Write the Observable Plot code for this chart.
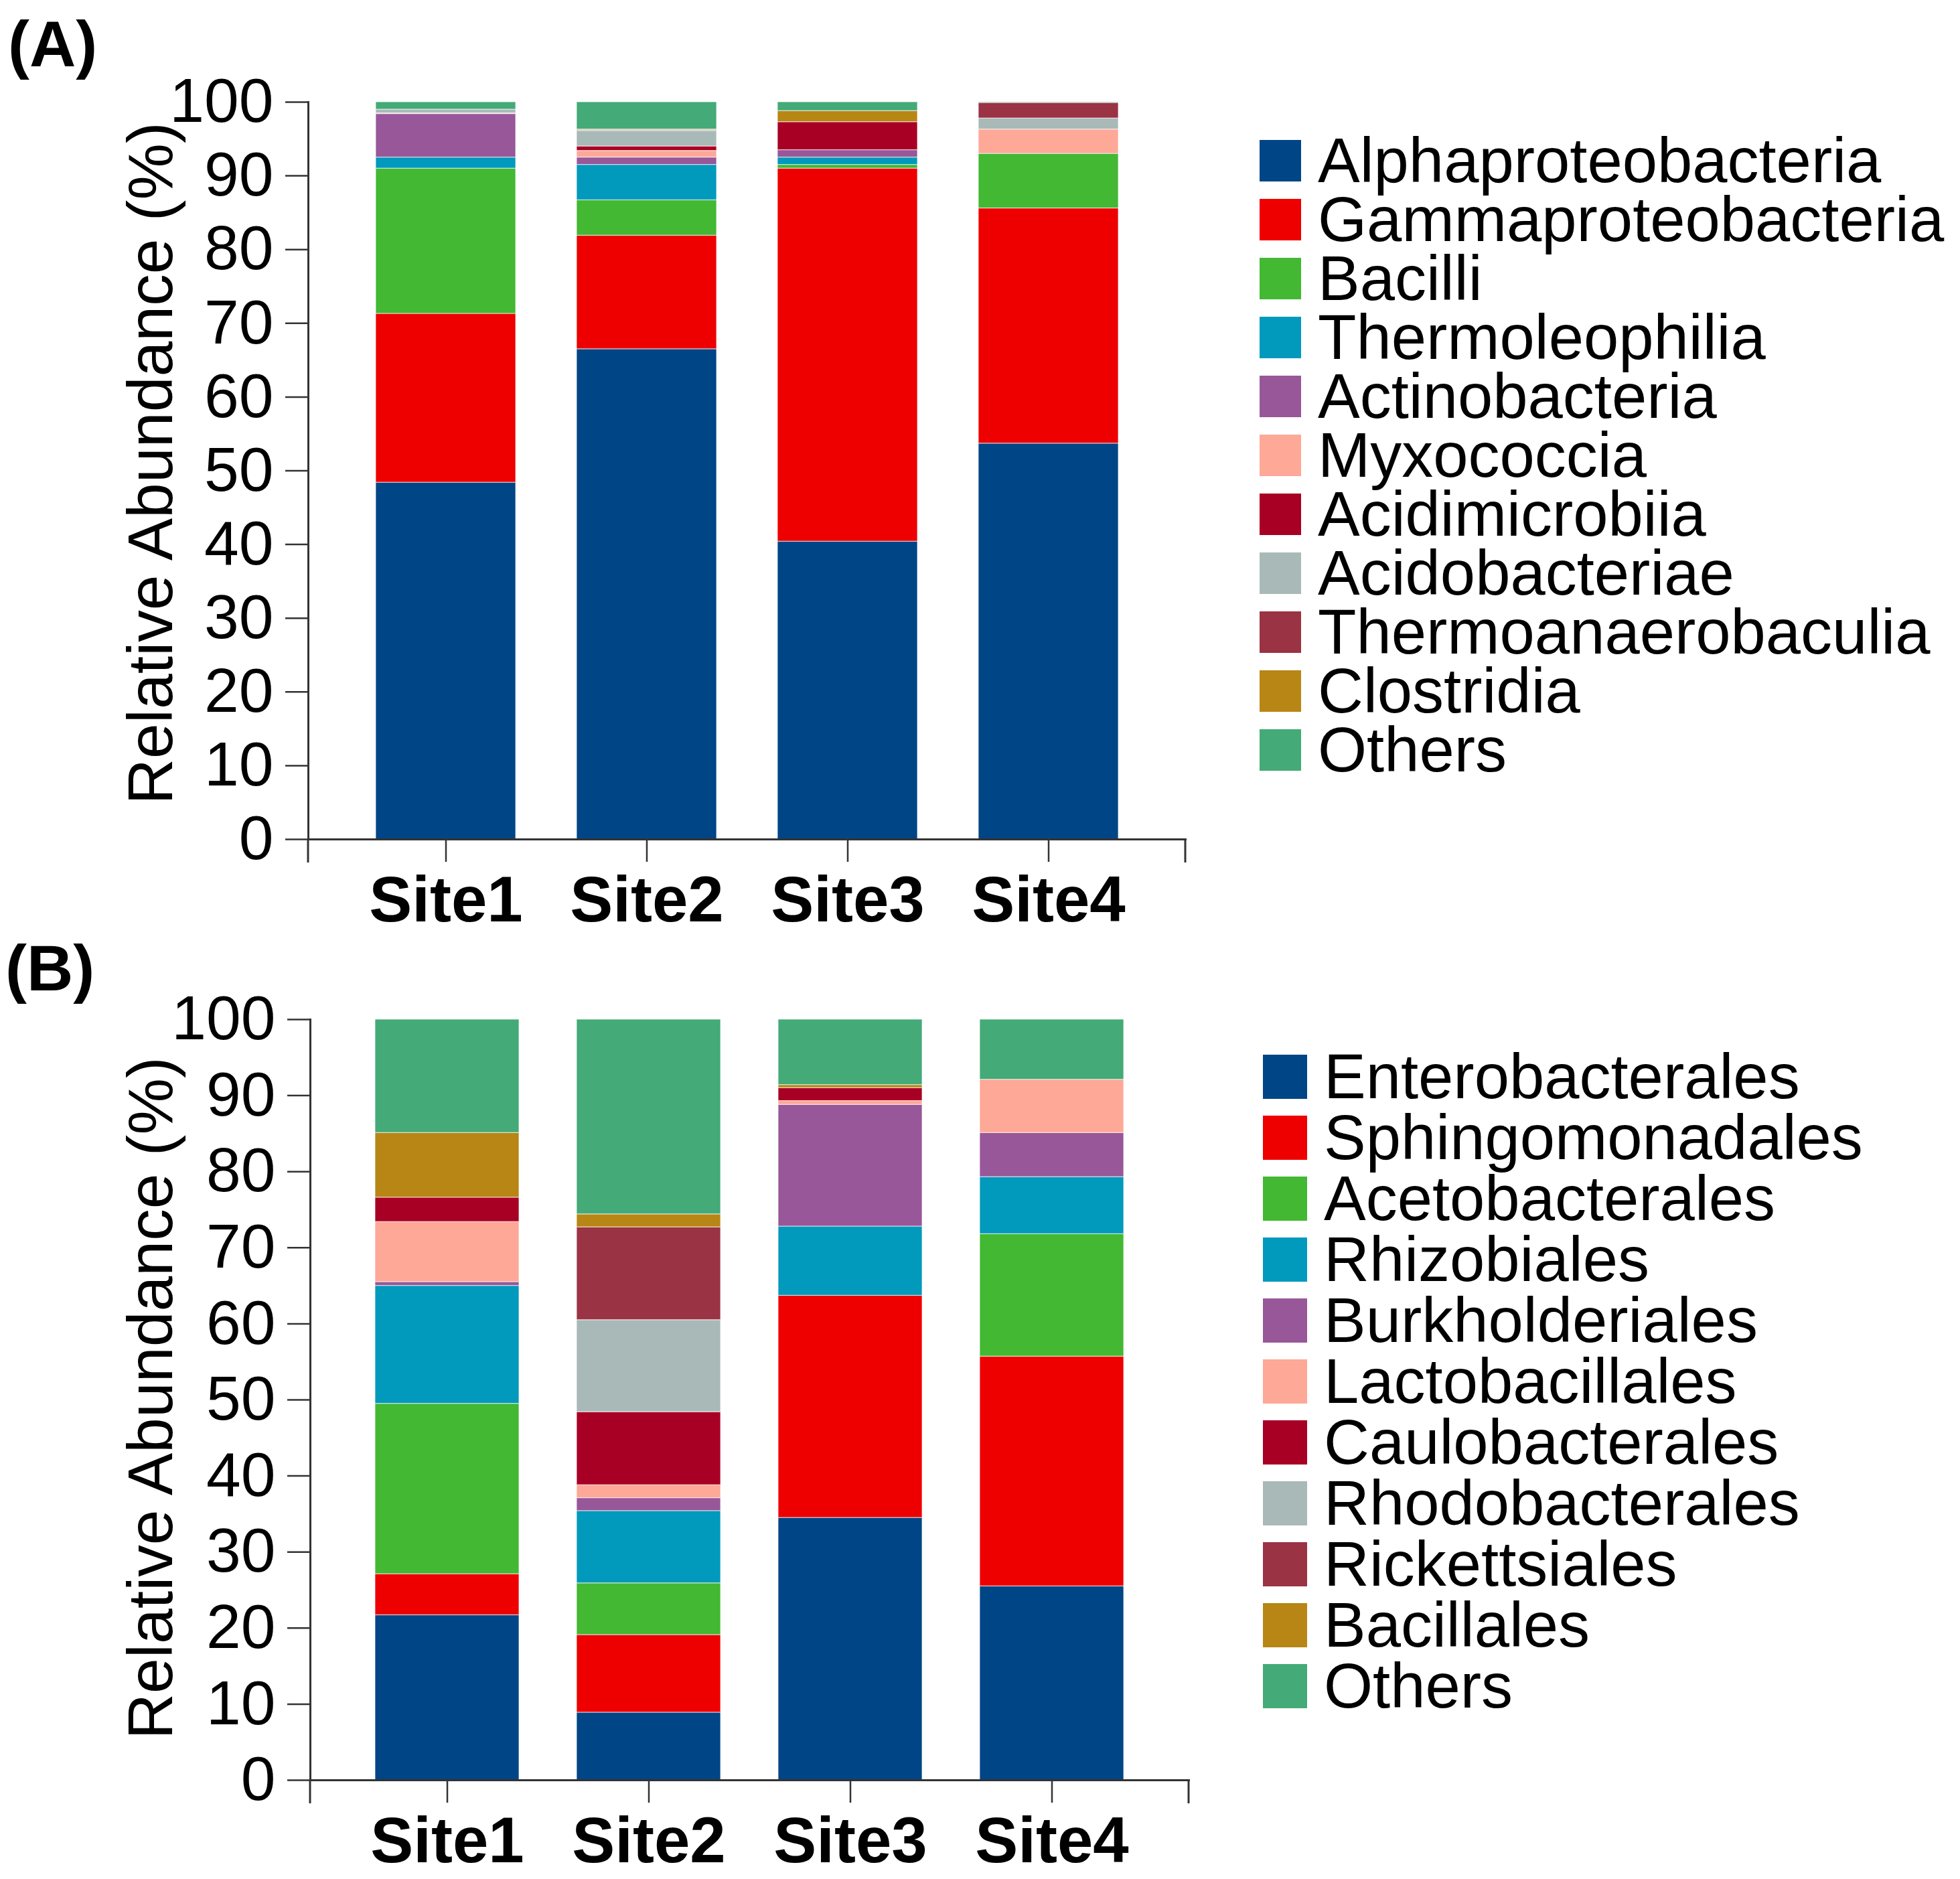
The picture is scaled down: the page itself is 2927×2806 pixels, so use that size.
<!DOCTYPE html>
<html>
<head>
<meta charset="utf-8">
<script src="https://cdn.jsdelivr.net/npm/d3@7"></script>
<script src="https://cdn.jsdelivr.net/npm/@observablehq/plot@0.6"></script>
<style>
  body { margin: 0; background: #fff; }
  #root { position: relative; width: 2927px; height: 2806px; font-family: "Liberation Sans", Arial, sans-serif; color: #000; overflow: hidden; }
  .panel { position: absolute; left: 0; }
  .tag { position: absolute; font-weight: bold; font-size: 96px; line-height: 1; }
  .ylab { position: absolute; font-size: 95px; white-space: nowrap; transform: translate(-50%, -50%) rotate(-90deg); line-height: 0.8; }
  .legend { position: absolute; }
  .legend .row { display: flex; align-items: center; }
  .legend .sw { flex: none; }
  .legend .tx { font-size: 94px; line-height: 80px; white-space: nowrap; }
  svg g[aria-label="x-axis tick label"] text { font-weight: bold; }
</style>
</head>
<body>
<div id="root"></div>
<script>
// ---------- data ----------
const sites = ["Site1", "Site2", "Site3", "Site4"];
const yTicks = [0, 10, 20, 30, 40, 50, 60, 70, 80, 90, 100];
const yLabel = "Relative Abundance (%)";

const classesA = ["Alphaproteobacteria", "Gammaproteobacteria", "Bacilli", "Thermoleophilia", "Actinobacteria",
  "Myxococcia", "Acidimicrobiia", "Acidobacteriae", "Thermoanaerobaculia", "Clostridia", "Others"];
const ordersB = ["Enterobacterales", "Sphingomonadales", "Acetobacterales", "Rhizobiales", "Burkholderiales",
  "Lactobacillales", "Caulobacterales", "Rhodobacterales", "Rickettsiales", "Bacillales", "Others"];

const palette = ["#004586", "#ee0000", "#43b833", "#0199bc", "#985799", "#fea897",
  "#a80024", "#a9b9b8", "#9a3344", "#b88614", "#44aa77"];

// panel A values (%), in classesA order
const a_site1 = [48.4, 22.9, 19.7, 1.5, 5.9, 0.05, 0.05, 0.5, 0, 0, 1.0];
const a_site2 = [66.5, 15.4, 4.8, 4.8, 1.0, 0.9, 0.6, 2.1, 0.1, 0.1, 3.7];
const a_site3 = [40.4, 50.6, 0.5, 1.0, 1.0, 0, 3.8, 0, 0, 1.5, 1.2];
const a_site4 = [53.7, 31.9, 7.4, 0, 0, 3.3, 0, 1.5, 2.1, 0, 0.1];

// panel B values (%), in ordersB order
const b_site1 = [21.7, 5.4, 22.4, 15.5, 0.5, 7.9, 3.2, 0, 0, 8.5, 14.9];
const b_site2 = [8.9, 10.2, 6.8, 9.5, 1.7, 1.7, 9.6, 12.1, 12.2, 1.7, 25.6];
const b_site3 = [34.5, 29.2, 0, 9.1, 16.0, 0.5, 1.7, 0, 0, 0.4, 8.6];
const b_site4 = [25.5, 30.2, 16.1, 7.5, 5.8, 7.0, 0, 0, 0, 0, 7.9];

// ---------- build ----------
function toRows(cats, perSite) {
  const rows = [];
  perSite.forEach((vals, i) => vals.forEach((v, j) => rows.push({site: sites[i], taxon: cats[j], value: v})));
  return rows;
}
const dataA = toRows(classesA, [a_site1, a_site2, a_site3, a_site4]);
const dataB = toRows(ordersB, [b_site1, b_site2, b_site3, b_site4]);

function endTicks(len) {
  return (index, scales, values, dims) => {
    const g = d3.create("svg:g");
    const y0 = dims.height - dims.marginBottom;
    [dims.marginLeft, dims.width - dims.marginRight].forEach(x => {
      g.append("line").attr("x1", x).attr("x2", x).attr("y1", y0).attr("y2", y0 + len)
        .attr("stroke", "#333").attr("stroke-width", 3);
    });
    return g.node();
  };
}

function panel(data, cats, o) {
  return Plot.plot({
    width: o.width, height: o.height,
    marginTop: o.mt, marginBottom: o.mb, marginLeft: o.ml, marginRight: o.mr,
    style: {fontFamily: '"Liberation Sans", Arial, sans-serif', background: "transparent", color: "#000"},
    x: {domain: sites, paddingInner: o.pi, paddingOuter: o.po, label: null},
    y: {domain: [0, 100], label: null},
    color: {domain: cats, range: palette},
    marks: [
      Plot.barY(data, {x: "site", y: "value", fill: "taxon", stroke: "white", strokeWidth: 1.2, strokeOpacity: 0.6}),
      Plot.axisY({ticks: yTicks, tickSize: 34, tickPadding: 18, fontSize: 93, stroke: "#333", strokeWidth: 2.5, label: null}),
      Plot.axisX({tickSize: 34, tickPadding: 20, fontSize: 96, fontWeight: "bold", stroke: "#333", strokeWidth: 2.5, label: null}),
      Plot.frame({anchor: "left", stroke: "#333", strokeWidth: 3}),
      Plot.frame({anchor: "bottom", stroke: "#333", strokeWidth: 3}),
      endTicks(35)
    ]
  });
}

const root = document.getElementById("root");

function addPanel(svg, top) {
  const d = document.createElement("div");
  d.className = "panel";
  d.style.top = top + "px";
  d.appendChild(svg);
  root.appendChild(d);
}

addPanel(panel(dataA, classesA, {width: 1800, height: 1420, mt: 152, mb: 167, ml: 460, mr: 30, pi: 0.305, po: 0.33}), 0);
addPanel(panel(dataB, ordersB, {width: 1800, height: 1396, mt: 112, mb: 148, ml: 463, mr: 25, pi: 0.286, po: 0.317}), 1410);

function addText(cls, text, left, top) {
  const d = document.createElement("div");
  d.className = cls;
  d.textContent = text;
  d.style.left = left + "px";
  d.style.top = top + "px";
  root.appendChild(d);
}
addText("tag", "(A)", 12, 18);
addText("tag", "(B)", 8, 1398);
addText("ylab", yLabel, 224, 692);
addText("ylab", yLabel, 224, 2088);

function addLegend(cats, left, top, rowH, sw, gap) {
  const lg = document.createElement("div");
  lg.className = "legend";
  lg.style.left = left + "px";
  lg.style.top = top + "px";
  cats.forEach((c, i) => {
    const r = document.createElement("div");
    r.className = "row";
    r.style.height = rowH + "px";
    const s = document.createElement("div");
    s.className = "sw";
    s.style.width = sw + "px";
    s.style.height = sw + "px";
    s.style.background = palette[i];
    const t = document.createElement("div");
    t.className = "tx";
    t.style.marginLeft = gap + "px";
    t.textContent = c;
    r.appendChild(s);
    r.appendChild(t);
    lg.appendChild(r);
  });
  root.appendChild(lg);
}
addLegend(classesA, 1881, 196, 88, 62, 25);
addLegend(ordersB, 1886, 1562, 91, 66, 25);
</script>
</body>
</html>
